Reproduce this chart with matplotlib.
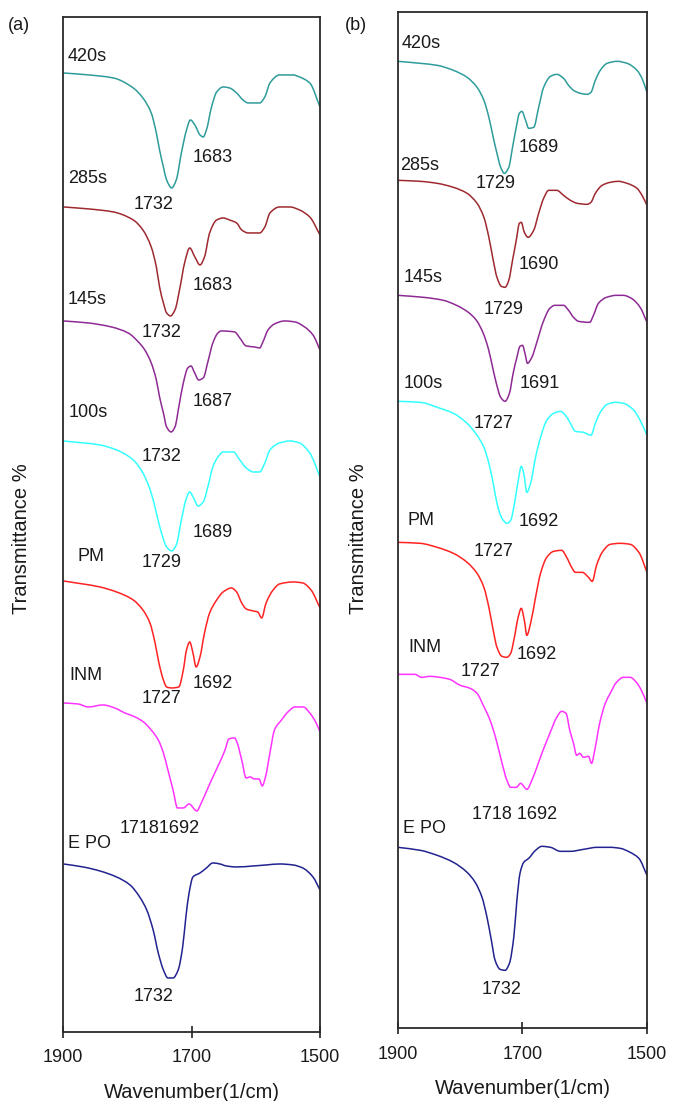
import matplotlib
matplotlib.use("Agg")
import matplotlib.pyplot as plt
from matplotlib.path import Path
from matplotlib.patches import PathPatch

plt.rcParams['font.family'] = ['Liberation Sans', 'DejaVu Sans']

# ---------------- Panel (a) data ----------------
a_420_wn = [1900,1860,1822,1791,1776,1763,1755,1750,1744,1739,1731,1724,1716,1708,1702,1695,1687,1682,1677,1669,1661,1651,1641,1630,1620,1612,1594,1586,1578,1563,1542,1532,1516,1500]
a_420_T = [95.7,95.5,95.2,94.2,93.2,91.7,89.7,88.0,86.3,85.0,84.2,85.0,87.7,90.0,91.0,90.5,89.5,89.3,90.0,92.3,93.8,94.3,94.2,93.7,93.0,92.7,92.7,93.3,94.7,95.5,95.5,95.3,94.7,92.3]

a_285_wn = [1900,1860,1822,1791,1776,1763,1755,1750,1744,1739,1733,1726,1718,1711,1703,1695,1687,1680,1672,1661,1651,1641,1630,1622,1612,1594,1586,1578,1563,1547,1532,1516,1500]
a_285_T = [82.3,82.1,81.8,81.0,80.0,78.3,76.3,74.3,72.7,71.7,71.4,72.0,74.3,76.7,78.2,77.3,76.5,77.3,79.7,81.0,81.2,81.0,80.7,80.0,79.7,79.7,80.3,81.7,82.3,82.3,82.0,81.3,79.5]

a_145_wn = [1900,1861,1825,1799,1783,1773,1763,1755,1750,1744,1739,1732,1726,1720,1713,1706,1701,1696,1689,1682,1674,1667,1659,1654,1633,1625,1615,1602,1594,1589,1581,1571,1555,1539,1524,1511,1500]
a_145_T = [70.9,70.7,70.3,69.7,68.8,68.0,66.7,65.0,63.3,61.7,60.3,59.8,60.3,62.3,64.7,66.2,66.4,65.8,65.0,65.2,67.0,68.7,69.7,69.9,69.8,69.2,68.4,68.3,68.2,68.8,70.0,70.6,70.9,70.8,70.3,69.5,68.0]

a_100_wn = [1900,1843,1817,1791,1776,1763,1755,1747,1739,1731,1724,1716,1709,1703,1697,1690,1682,1674,1667,1659,1651,1635,1625,1615,1604,1594,1586,1578,1563,1547,1532,1516,1500]
a_100_T = [58.9,58.5,58.0,57.0,55.7,53.7,51.7,49.7,48.3,47.9,48.5,51.0,53.0,53.8,53.2,52.4,52.8,54.5,56.3,57.3,57.8,57.8,57.0,56.2,55.8,55.8,56.7,58.0,58.7,58.9,58.7,57.7,55.3]

a_pm_wn = [1900,1843,1817,1791,1776,1765,1757,1751,1744,1739,1731,1720,1713,1708,1703,1698,1693,1687,1680,1672,1661,1651,1638,1630,1622,1615,1604,1597,1591,1584,1573,1563,1542,1527,1514,1500]
a_pm_T = [44.9,44.3,43.8,43.0,42.0,40.7,38.7,36.7,35.0,34.3,34.2,34.3,36.0,38.0,38.8,37.7,36.3,37.3,39.7,41.7,43.0,43.8,44.2,43.8,42.7,42.1,41.9,41.8,41.2,42.7,44.0,44.6,44.8,44.7,44.0,42.2]

a_inm_wn = [1900,1877,1861,1838,1820,1804,1788,1775,1763,1752,1744,1737,1729,1722,1713,1704,1692,1685,1674,1664,1656,1648,1642,1633,1629,1622,1615,1609,1602,1595,1590,1585,1578,1571,1560,1550,1539,1526,1516,1506,1500]
a_inm_T = [32.7,32.6,32.3,32.5,32.2,31.7,31.3,30.8,30.0,29.0,27.7,26.0,24.0,22.2,22.2,22.6,21.9,22.7,24.3,25.7,26.8,28.0,29.1,29.2,28.7,27.0,25.2,25.3,25.1,25.1,24.4,25.3,27.7,30.0,31.0,31.8,32.3,32.3,31.7,30.7,29.8]

a_epo_wn = [1900,1869,1843,1817,1796,1781,1770,1760,1752,1744,1737,1729,1721,1714,1709,1704,1698,1687,1677,1667,1656,1646,1630,1604,1584,1563,1542,1527,1511,1500]
a_epo_T = [16.6,16.3,15.9,15.3,14.5,13.3,12.0,10.0,7.7,6.0,5.2,5.2,6.0,8.3,11.3,13.7,15.3,15.7,16.2,16.7,16.6,16.4,16.3,16.4,16.5,16.6,16.5,16.2,15.3,14.0]

# ---------------- Panel (b) data ----------------
b_420_wn = [1900,1864,1837,1811,1789,1773,1762,1754,1747,1741,1735,1729,1722,1716,1710,1705,1701,1695,1690,1682,1674,1666,1655,1645,1634,1626,1618,1607,1596,1590,1583,1575,1564,1548,1532,1516,1508,1500]
b_420_T = [96.9,96.7,96.5,96.0,95.3,94.3,93.0,91.3,89.3,87.7,86.3,85.7,86.3,88.3,90.3,91.7,91.9,91.0,90.2,90.3,92.3,94.3,95.4,95.6,95.2,94.5,94.0,93.7,93.6,93.8,95.0,96.0,96.7,96.9,96.7,96.0,95.2,93.8]

b_285_wn = [1900,1864,1837,1811,1789,1773,1762,1754,1747,1741,1734,1728,1722,1716,1710,1705,1702,1697,1691,1682,1674,1666,1658,1645,1634,1623,1612,1596,1590,1583,1572,1559,1546,1532,1516,1508,1500]
b_285_T = [85.0,84.9,84.7,84.3,83.7,82.7,81.3,79.3,77.0,75.3,74.4,74.3,75.0,77.0,79.0,80.7,80.8,79.8,79.3,80.0,81.7,83.2,84.0,84.0,83.5,83.0,82.7,82.6,82.8,83.7,84.5,84.8,84.9,84.7,84.2,83.5,82.5]

b_145_wn = [1900,1859,1827,1806,1787,1774,1763,1755,1748,1742,1735,1728,1721,1715,1709,1704,1700,1696,1692,1685,1677,1667,1656,1648,1634,1626,1618,1610,1592,1586,1578,1565,1549,1538,1525,1511,1500]
b_145_T = [73.5,73.3,73.0,72.5,71.8,71.0,69.7,68.2,66.3,64.7,63.3,62.9,63.7,65.7,67.3,68.4,68.5,67.7,66.7,67.3,68.8,70.8,72.2,72.5,72.5,72.0,71.3,70.9,70.8,71.5,72.7,73.3,73.5,73.5,73.2,72.3,70.8]

b_100_wn = [1900,1864,1837,1811,1789,1773,1762,1754,1747,1741,1733,1725,1719,1712,1706,1702,1698,1693,1687,1679,1671,1661,1650,1639,1631,1623,1615,1602,1590,1583,1575,1564,1551,1538,1521,1511,1500]
b_100_T = [62.9,62.8,62.3,61.7,60.7,59.5,58.3,56.7,54.7,52.7,51.2,50.7,51.0,53.0,55.3,56.4,55.7,53.8,54.7,57.3,59.3,61.0,61.7,61.9,61.5,60.7,59.9,59.8,59.5,60.7,61.8,62.6,62.8,62.7,62.0,61.0,59.5]

b_pm_wn = [1900,1864,1837,1811,1789,1773,1762,1754,1747,1741,1733,1725,1719,1713,1707,1702,1697,1693,1687,1679,1671,1661,1650,1637,1629,1621,1615,1604,1594,1588,1581,1572,1559,1543,1527,1513,1500]
b_pm_T = [48.8,48.7,48.3,47.7,46.8,45.7,44.3,42.3,40.0,38.3,37.4,37.3,37.7,39.3,41.3,42.2,41.0,39.5,40.7,43.3,45.7,47.3,47.9,48.0,47.3,46.3,45.8,45.8,45.3,44.9,46.5,47.8,48.6,48.7,48.6,47.8,45.8]

b_inm_wn = [1900,1873,1862,1849,1833,1817,1800,1784,1773,1763,1752,1742,1734,1725,1719,1710,1703,1693,1685,1677,1667,1656,1645,1637,1630,1624,1618,1613,1608,1602,1594,1589,1584,1576,1567,1559,1549,1538,1527,1517,1509,1500]
b_inm_T = [35.6,35.6,35.3,35.4,35.3,35.1,34.5,34.2,33.7,32.5,31.0,29.0,27.0,25.0,24.3,24.3,24.7,24.1,25.0,26.3,28.0,29.7,31.3,31.9,31.7,30.0,28.7,27.5,27.7,27.3,27.4,26.7,28.0,30.7,32.7,33.7,34.8,35.3,35.3,34.8,34.0,32.7]

b_epo_wn = [1900,1864,1837,1811,1789,1776,1765,1757,1750,1744,1736,1728,1721,1714,1709,1704,1698,1690,1679,1669,1655,1639,1623,1602,1580,1559,1543,1527,1513,1500]
b_epo_T = [18.3,18.0,17.5,16.8,15.8,14.8,13.3,11.3,9.0,7.0,6.1,6.0,6.7,9.3,13.0,15.7,16.8,17.2,18.0,18.4,18.3,17.9,17.9,18.1,18.3,18.3,18.2,17.8,17.2,15.5]

sample_names = ['420s', '285s', '145s', '100s', 'PM', 'INM', 'E PO']
colors = ['#2e9c9a', '#9e2a30', '#8e2a94', '#33ffff', '#ff2222', '#ff33ff', '#222290']

# annotation texts (label, wavenumber, T) -- left aligned, vertically centred
a_texts = [('420s', 1894, 97.3), ('285s', 1893, 85.1), ('145s', 1893, 73.0), ('100s', 1891, 61.7),
           ('PM', 1878, 47.3), ('INM', 1891, 35.4), ('E PO', 1893, 18.6),
           ('1683', 1698, 87.2), ('1732', 1791, 82.5), ('1683', 1698, 74.4), ('1732', 1778, 69.7),
           ('1687', 1698, 62.8), ('1732', 1778, 57.3), ('1689', 1698, 49.7), ('1729', 1778, 46.7),
           ('1692', 1698, 34.6), ('1727', 1778, 33.1), ('17181692', 1812, 20.1), ('1732', 1791, 3.3)]
b_texts = [('420s', 1894, 98.7), ('285s', 1896, 86.5), ('145s', 1891, 75.3), ('100s', 1891, 64.7),
           ('PM', 1884, 51.0), ('INM', 1884, 38.3), ('E PO', 1892, 20.2),
           ('1689', 1706, 88.3), ('1729', 1776, 84.7), ('1690', 1706, 76.6), ('1729', 1762, 72.1),
           ('1691', 1705, 64.7), ('1727', 1778, 60.7), ('1692', 1706, 50.9), ('1727', 1778, 47.9),
           ('1692', 1709, 37.6), ('1727', 1800, 35.9), ('1718 1692', 1781, 21.6), ('1732', 1765, 4.1)]


def smooth_path(x, y):
    """Monotone cubic (PCHIP-style) Bezier path through the given points."""
    n = len(x)
    h = [x[i + 1] - x[i] for i in range(n - 1)]
    d = [(y[i + 1] - y[i]) / h[i] for i in range(n - 1)]
    m = [0.0] * n
    m[0], m[-1] = d[0], d[-1]
    for i in range(1, n - 1):
        if d[i - 1] * d[i] <= 0:
            m[i] = 0.0
        else:
            w1 = 2 * h[i] + h[i - 1]
            w2 = h[i] + 2 * h[i - 1]
            m[i] = (w1 + w2) / (w1 / d[i - 1] + w2 / d[i])
    verts = [(x[0], y[0])]
    codes = [Path.MOVETO]
    for i in range(n - 1):
        verts += [(x[i] + h[i] / 3, y[i] + m[i] * h[i] / 3),
                  (x[i + 1] - h[i] / 3, y[i + 1] - m[i + 1] * h[i] / 3),
                  (x[i + 1], y[i + 1])]
        codes += [Path.CURVE4] * 3
    return Path(verts, codes)


fig = plt.figure(figsize=(6.74, 11.01), dpi=100)
ax_a = fig.add_axes([0.0939, 0.0627, 0.3809, 0.9219])
ax_b = fig.add_axes([0.5905, 0.0660, 0.3694, 0.9228])

a_series = [(a_420_wn, a_420_T), (a_285_wn, a_285_T), (a_145_wn, a_145_T), (a_100_wn, a_100_T),
            (a_pm_wn, a_pm_T), (a_inm_wn, a_inm_T), (a_epo_wn, a_epo_T)]
b_series = [(b_420_wn, b_420_T), (b_285_wn, b_285_T), (b_145_wn, b_145_T), (b_100_wn, b_100_T),
            (b_pm_wn, b_pm_T), (b_inm_wn, b_inm_T), (b_epo_wn, b_epo_T)]

for ax, series, texts, ylim, lab_xy in [
        (ax_a, a_series, a_texts, (-0.2, 101.3), (-0.124, 0.486)),
        (ax_b, b_series, b_texts, (0.2, 101.8), (-0.120, 0.482))]:
    for (wn, T), c, name in zip(series, colors, sample_names):
        ax.add_patch(PathPatch(smooth_path(wn, T), fill=False, edgecolor=c,
                               lw=1.1, label=name, joinstyle='round'))
    for s, x, y in texts:
        ax.text(x, y, s, ha='left', va='center', fontsize=13, color='#1a1a1a')
    ax.set_xlim(1900, 1500)
    ax.set_ylim(*ylim)
    ax.set_xticks([1900, 1700, 1500])
    ax.set_yticks([])
    ax.tick_params(axis='x', direction='inout', length=8, width=1.2, pad=8.5,
                   labelsize=13, colors='#222222', labelcolor='#1a1a1a')
    for sp in ax.spines.values():
        sp.set_color('#2a2a2a')
        sp.set_linewidth(1.3)
    ax.set_xlabel('Wavenumber(1/cm)', fontsize=14.5, labelpad=12, color='#1a1a1a')
    ax.set_ylabel('Transmittance %', fontsize=14.5, color='#1a1a1a')
    ax.yaxis.set_label_coords(*lab_xy)

fig.text(8/674, 1 - 25/1101, '(a)', fontsize=13, ha='left', va='center', color='#1a1a1a')
fig.text(345/674, 1 - 25/1101, '(b)', fontsize=13, ha='left', va='center', color='#1a1a1a')

fig.savefig('out.png', dpi=100)
